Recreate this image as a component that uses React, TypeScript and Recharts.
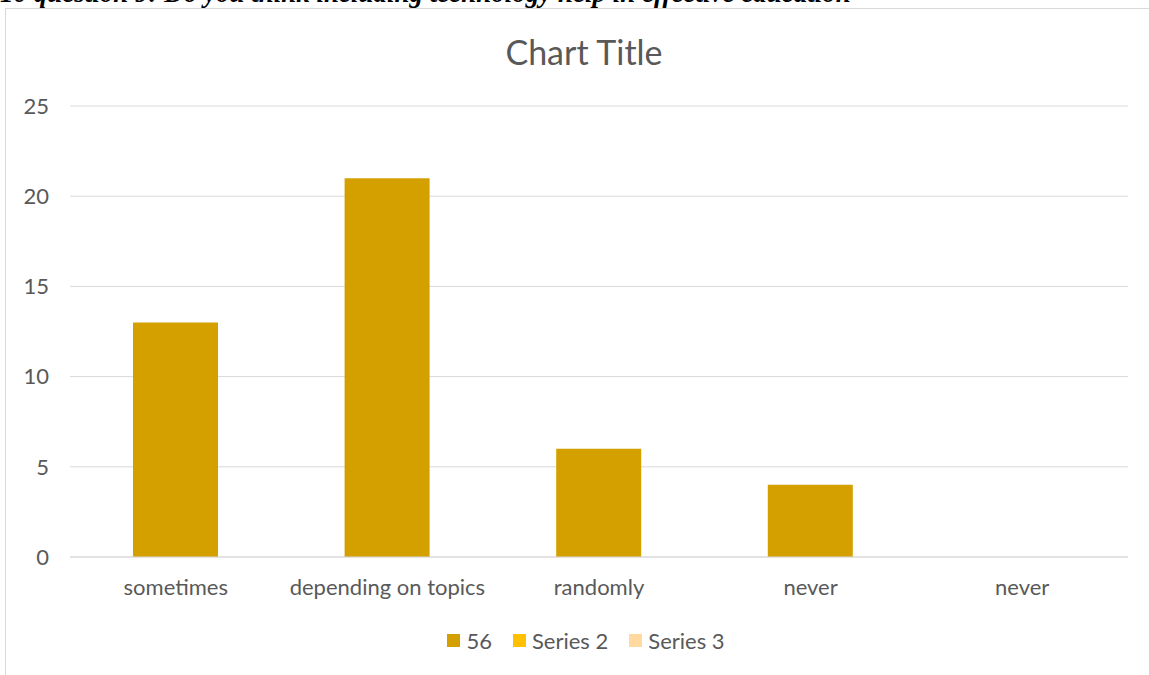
import React from "react";
import { BarChart, Bar, XAxis, YAxis, CartesianGrid } from "recharts";

const categories = ["sometimes", "depending on topics", "randomly", "never", "never"];
const series56 = [13, 21, 6, 4, null];
const yTicks = [0, 5, 10, 15, 20, 25];
const legendNames = ["56", "Series 2", "Series 3"];
const legendColors = ["#D4A000", "#FFC000", "#FFD9A0"];
const chartTitle = "Chart Title";
const headerText = "10 question 9:  Do you think including technology help in effective education";

const data = categories.map((c, i) => ({ key: i, name: c, v: series56[i] }));

const FONT = "Lato, 'Open Sans', sans-serif";

export default function App() {
  return (
    <div style={{ position: "absolute", left: 0, top: 0, width: 1149, height: 675, overflow: "hidden", background: "#fff" }}>
      <div
        style={{
          position: "absolute",
          left: 0,
          top: -20,
          lineHeight: "27px",
          fontFamily: "'Liberation Serif', 'Times New Roman', serif",
          fontWeight: "bold",
          fontStyle: "italic",
          fontSize: 27,
          whiteSpace: "nowrap",
          color: "#000",
        }}
      >
        {headerText}
      </div>
      <div
        style={{
          position: "absolute",
          left: 5,
          top: 8,
          width: 1160,
          height: 700,
          border: "1px solid #d9d9d9",
          boxSizing: "border-box",
        }}
      />
      <div
        style={{
          position: "absolute",
          left: 0,
          width: 1168,
          top: 31,
          textAlign: "center",
          fontFamily: FONT,
          fontSize: 34,
          color: "#595959",
        }}
      >
        {chartTitle}
      </div>
      <div style={{ position: "absolute", left: 0, top: 0 }}>
        <BarChart
          width={1149}
          height={675}
          data={data}
          margin={{ top: 106, right: 21, bottom: 88, left: 0 }}
        >
          <CartesianGrid vertical={false} stroke="#d9d9d9" />
          <XAxis
            dataKey="key"
            tickFormatter={(i) => categories[i]}
            axisLine={{ stroke: "#d9d9d9" }}
            tickLine={false}
            height={30}
            tickMargin={16}
            tick={{ fill: "#595959", fontSize: 22, fontFamily: FONT }}
            interval={0}
          />
          <YAxis
            domain={[0, 25]}
            ticks={yTicks}
            width={70}
            axisLine={false}
            tickLine={false}
            tickMargin={15}
            tick={{ fill: "#595959", fontSize: 22, fontFamily: FONT }}
          />
          <Bar dataKey="v" fill={legendColors[0]} barSize={85} isAnimationActive={false} />
        </BarChart>
      </div>
      <div
        style={{
          position: "absolute",
          left: 0,
          width: 1172,
          top: 627,
          display: "flex",
          justifyContent: "center",
          fontFamily: FONT,
          fontSize: 22,
          color: "#595959",
        }}
      >
        {legendNames.map((n, i) => (
          <div key={n} style={{ display: "flex", alignItems: "center", marginLeft: i === 0 ? 0 : 21 }}>
            <span style={{ display: "inline-block", width: 13, height: 13, background: legendColors[i], marginRight: 6 }} />
            <span>{n}</span>
          </div>
        ))}
      </div>
    </div>
  );
}
